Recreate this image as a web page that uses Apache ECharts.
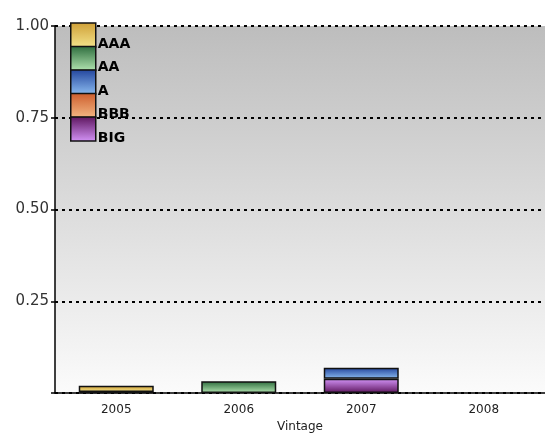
<!DOCTYPE html>
<html>
<head>
<meta charset="utf-8">
<script src="https://cdn.jsdelivr.net/npm/echarts@6/dist/echarts.min.js"></script>
<style>
  html, body { margin: 0; padding: 0; background: #ffffff; }
  #chart { width: 545px; height: 438px; }
</style>
</head>
<body>
<div id="chart"></div>
<script>
// Share of each rating bucket by vintage year
var vintages = ['2005', '2006', '2007', '2008'];
var ratings = ['AAA', 'AA', 'A', 'BBB', 'BIG'];
var valuesAAA = [0.017, null, null, null];
var valuesAA  = [0.003, 0.032, null, null];
var valuesA   = [null, null, 0.030, null];
var valuesBBB = [null, null, null, null];
var valuesBIG = [null, null, 0.039, null];
var yTicks = [0, 0.25, 0.5, 0.75, 1];

// dark top -> light bottom swatch colours per rating
var palette = {
  AAA: ['#cf9f36', '#f3e48c'],
  AA:  ['#2c6b3c', '#b4e6b2'],
  A:   ['#22449c', '#8cbcf0'],
  BBB: ['#cc5c2c', '#f4b884'],
  BIG: ['#5c145c', '#d494f8']
};

function vgrad(top, bottom) {
  return new echarts.graphic.LinearGradient(0, 0, 0, 1, [
    { offset: 0, color: top },
    { offset: 1, color: bottom }
  ]);
}

var seriesValues = { AAA: valuesAAA, AA: valuesAA, A: valuesA, BBB: valuesBBB, BIG: valuesBIG };

// stacked from the bottom: BIG, BBB, A, AA, AAA
var stackOrder = ['BIG', 'BBB', 'A', 'AA', 'AAA'];
var series = stackOrder.map(function (name) {
  var c = palette[name];
  var fill = name === 'BIG' ? vgrad(c[1], c[0]) : vgrad(c[0], c[1]);
  return {
    name: name,
    type: 'bar',
    stack: 'rating',
    barWidth: 75,
    data: seriesValues[name],
    itemStyle: { color: fill, borderColor: '#111111', borderWidth: 1.5 }
  };
});

var legendData = ratings.map(function (name) {
  var c = palette[name];
  return {
    name: name,
    itemStyle: { color: vgrad(c[0], c[1]), borderColor: '#111111', borderWidth: 1.5 }
  };
});

var chart = echarts.init(document.getElementById('chart'), null, { renderer: 'canvas' });
chart.setOption({
  animation: false,
  backgroundColor: '#ffffff',
  grid: {
    left: 55, top: 26, width: 500, height: 376,
    show: true,
    borderWidth: 0,
    backgroundColor: vgrad('#bdbdbd', '#fbfbfb')
  },
  legend: {
    orient: 'vertical',
    left: 70, top: 19,
    padding: 0,
    itemWidth: 25, itemHeight: 24, itemGap: -8.5,
    icon: 'rect',
    selectedMode: false,
    data: legendData,
    formatter: '{t|{name}}',
    textStyle: {
      rich: {
        t: {
          fontFamily: 'DejaVu Sans', fontWeight: 'bold', fontSize: 14, color: '#000000',
          lineHeight: 16, padding: [18, 0, 0, -3]
        }
      }
    }
  },
  xAxis: {
    type: 'category',
    data: vintages,
    name: 'Vintage',
    nameLocation: 'middle',
    nameGap: 25,
    nameTextStyle: { fontFamily: 'DejaVu Sans', fontSize: 12, color: '#222222' },
    axisLine: { lineStyle: { color: '#000000', width: 1.5 } },
    axisTick: { show: false },
    axisLabel: { fontFamily: 'DejaVu Sans', fontSize: 12, color: '#222222', margin: 11 }
  },
  yAxis: {
    type: 'value',
    min: yTicks[0], max: yTicks[yTicks.length - 1], interval: 0.25,
    axisLine: { show: true, lineStyle: { color: '#000000', width: 1.5 } },
    axisTick: { show: true, length: 4, lineStyle: { color: '#000000', width: 1.5 } },
    axisLabel: {
      fontFamily: 'DejaVu Sans', fontSize: 15, color: '#333333', margin: 6,
      formatter: function (v) { return v === 0 ? '' : v.toFixed(2); }
    },
    splitLine: { lineStyle: { color: '#000000', width: 2, type: [3, 4] } }
  },
  series: series
});
</script>
</body>
</html>
